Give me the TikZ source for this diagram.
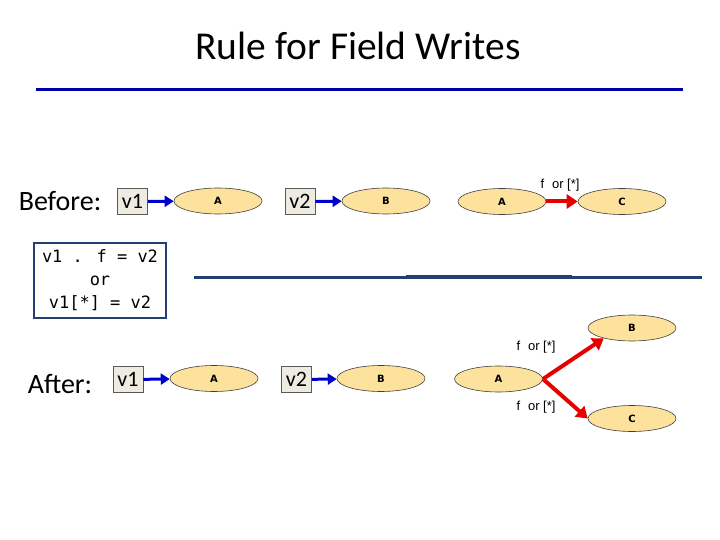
\documentclass[tikz,border=0pt]{standalone}
\usepackage{fontspec}
\setmainfont{Carlito}
\newfontfamily\smallsans{DejaVu Sans}
\newfontfamily\arialf{Liberation Sans}
\newfontfamily\monof{DejaVu Sans Mono}
\usetikzlibrary{shapes.geometric,arrows.meta}
\definecolor{ellfill}{RGB}{253,226,158}
\definecolor{boxfill}{RGB}{238,236,225}
\definecolor{slate}{RGB}{36,64,110}
\definecolor{titleblue}{RGB}{0,0,170}
\definecolor{arrblue}{RGB}{0,0,205}
\definecolor{arrred}{RGB}{230,0,0}
\tikzset{
  ell/.style={ellipse, draw=black!75, line width=0.6pt, fill=ellfill, minimum width=88pt, minimum height=26pt, inner sep=0pt, font=\smallsans\bfseries\fontsize{10}{12}\selectfont},
  varbox/.style={draw=black!65, line width=0.8pt, fill=boxfill, minimum width=30pt, minimum height=26pt, inner sep=0pt, font=\fontsize{22}{24}\selectfont},
  barrow/.style={draw=arrblue, line width=3pt, -{Triangle[length=9pt,width=11pt]}},
  rarrow/.style={draw=arrred, line width=4pt, -{Triangle[length=11pt,width=14pt]}},
  elab/.style={font=\arialf\fontsize{13}{15}\selectfont, inner sep=0pt},
  biglab/.style={font=\fontsize{28}{30}\selectfont, inner sep=0pt}
}
\begin{document}
\begin{tikzpicture}[x=1pt,y=-1pt]
\useasboundingbox (0,0) rectangle (720,540);
% title
\node[font=\fontsize{39.5}{42}\selectfont, inner sep=0pt] (title) at (358,46) {Rule for Field Writes};
\coordinate (tl) at (36,90); \coordinate (tr) at (683,90);
\draw[titleblue, line width=3pt] (tl) -- (tr);
% Before row
\node[biglab] (before) at (60,201) {Before:};
\node[varbox] (bv1) at (132.5,201.5) {v1};
\node[ell] (bA) at (218,201) {A};
\node[varbox] (bv2) at (300,201.5) {v2};
\node[ell] (bB) at (386,201) {B};
\node[ell] (bA2) at (502,201.5) {A};
\node[ell] (bC) at (622,201.5) {C};
\draw[barrow] (bv1) -- (bA);
\draw[barrow] (bv2) -- (bB);
\draw[rarrow] (bA2) -- (bC);
\node[elab] (bl) at (560,185) {f\,\, or [*]};
% statement box
\node[draw=slate, line width=2pt, minimum width=132pt, minimum height=75pt, inner sep=0pt, align=center, font=\monof\fontsize{17}{23}\selectfont] (stmt) at (100,280.5) {v1 . f = v2\\or\\v1[*] = v2};
\coordinate (l1a) at (194,277.5); \coordinate (l1b) at (702,277.5);
\coordinate (l2a) at (406,276.5); \coordinate (l2b) at (572,276.5);
\draw[slate, line width=2.5pt] (l1a) -- (l1b);
\draw[slate, line width=3pt] (l2a) -- (l2b);
% After row
\node[biglab] (after) at (60,384) {After:};
\node[varbox] (av1) at (128,379.5) {v1};
\node[ell] (aA) at (214,378.5) {A};
\node[varbox] (av2) at (296.5,379.5) {v2};
\node[ell] (aB) at (381,378.5) {B};
\node[ell] (aA2) at (498.5,379) {A};
\node[ell] (aB2) at (632,328) {B};
\node[ell] (aC2) at (632,418.5) {C};
\draw[barrow] (av1) -- (aA);
\draw[barrow] (av2) -- (aB);
\coordinate (fork) at (543,379);
\draw[rarrow] (fork) -- (aB2.200);
\draw[rarrow] (fork) -- (aC2.west);
\node[elab] (al1) at (536,347) {f\,\, or [*]};
\node[elab] (al2) at (536,407) {f\,\, or [*]};
\end{tikzpicture}
\end{document}
